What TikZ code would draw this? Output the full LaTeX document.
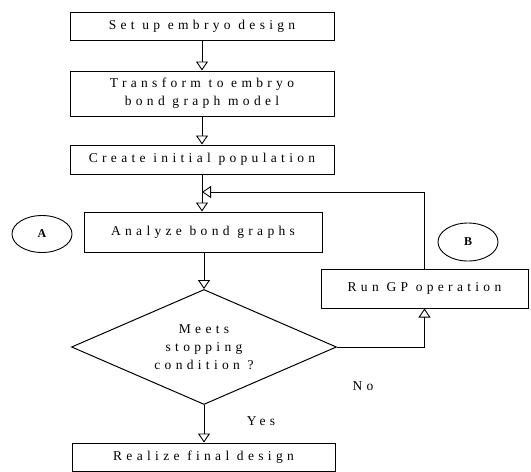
\documentclass[tikz,border=0pt]{standalone}
\usepackage{fontspec}
\setmainfont{Liberation Serif}
\newfontfamily\spaced[LetterSpace=32]{Liberation Serif}
\usetikzlibrary{shapes.geometric,arrows.meta}
\begin{document}
\begin{tikzpicture}[x=1pt,y=-1pt,
  txt/.style={font=\spaced\fontsize{13.5}{18}\selectfont},
  box/.style={draw,line width=1pt,rectangle,inner sep=0pt,txt,align=center},
  oval/.style={draw,line width=0.9pt,ellipse,inner sep=0pt,font=\bfseries\fontsize{12}{13}\selectfont},
  arr/.style={line width=1pt,-{Triangle[open,width=12pt,length=9pt,line width=0.9pt]}}]
\useasboundingbox (0,0) rectangle (531,472);
\node[box,minimum width=264pt,minimum height=28pt] (b1) at (202,26) {Set up embryo design};
\node[box,minimum width=264pt,minimum height=45pt] (b2) at (202,93.5) {Transform to embryo\\bond graph model};
\node[box,minimum width=264pt,minimum height=29pt] (b3) at (202,159.5) {Create initial population};
\node[box,minimum width=238pt,minimum height=40pt] (an) at (203,232) {Analyze bond graphs};
\node[draw,line width=1pt,diamond,inner sep=0pt,shape aspect=2.25,minimum width=265pt,minimum height=115pt,txt,align=center] (dm) at (204,347) {Meets\\stopping\\condition ?};
\node[box,minimum width=207pt,minimum height=39pt] (gp) at (424.5,288.5) {Run GP operation};
\node[box,minimum width=263pt,minimum height=28pt] (re) at (203.5,457) {Realize final design};
\node[oval,minimum width=60pt,minimum height=37pt] (A) at (42,234) {A};
\node[oval,minimum width=60pt,minimum height=38pt] (B) at (468,242) {B};
\node[txt] (no) at (363,386) {No};
\node[txt] (yes) at (261,421) {Yes};
\coordinate (jn) at (202,192);
\draw[arr] (b1) -- (b2);
\draw[arr] (b2) -- (b3);
\draw[arr] (b3.south) -- (b3.south |- an.north);
\draw[arr] (an.south -| dm.north) -- (dm.north);
\draw[arr] (dm.south) -- (re.north -| dm.south);
\draw[arr] (dm.east) -| (gp.south);
\draw[arr] (gp.north) |- (jn);
\end{tikzpicture}
\end{document}
